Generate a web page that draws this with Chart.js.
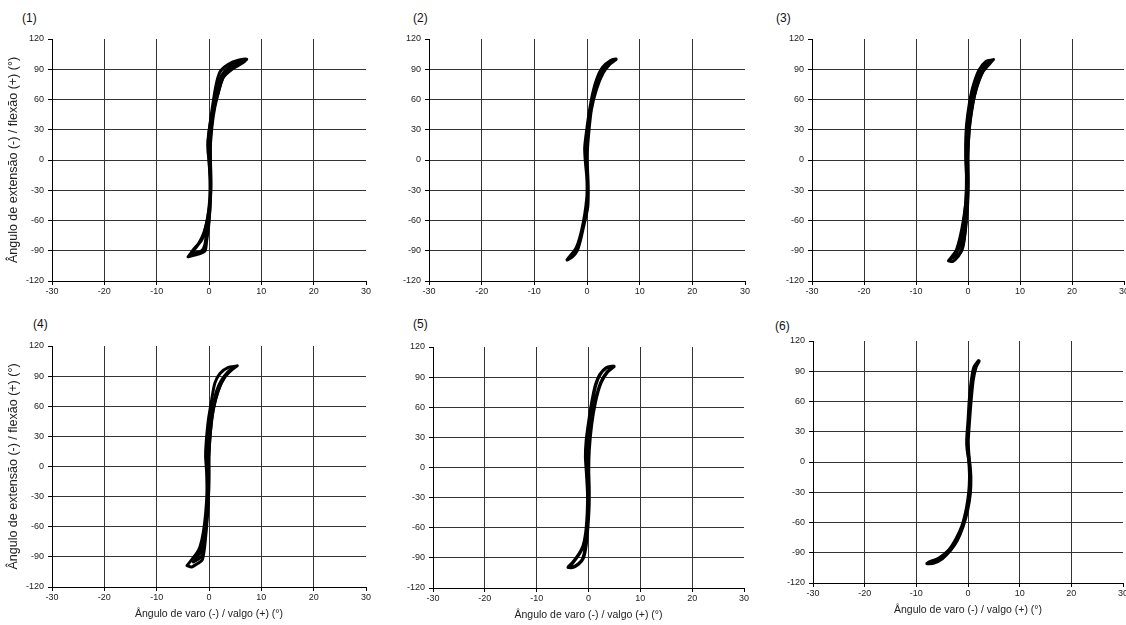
<!DOCTYPE html>
<html>
<head>
<meta charset="utf-8">
<script src="https://cdn.jsdelivr.net/npm/chart.js@4.4.1/dist/chart.umd.min.js"></script>
<style>
  html, body { margin: 0; padding: 0; background: #fff; }
  body { width: 1126px; height: 625px; position: relative; overflow: hidden; }
  canvas { position: absolute; }
  .plabel { position: absolute; font-family: "Liberation Sans", Arial, sans-serif; font-size: 12px; color: #111; }
</style>
</head>
<body>
<div class="plabel" style="left:22px;top:11px">(1)</div>
<div class="plabel" style="left:413px;top:11px">(2)</div>
<div class="plabel" style="left:776px;top:11px">(3)</div>
<div class="plabel" style="left:33px;top:317px">(4)</div>
<div class="plabel" style="left:413px;top:317px">(5)</div>
<div class="plabel" style="left:775px;top:319px">(6)</div>
<canvas id="c1"></canvas>
<canvas id="c2"></canvas>
<canvas id="c3"></canvas>
<canvas id="c4"></canvas>
<canvas id="c5"></canvas>
<canvas id="c6"></canvas>
<script>
// ── Axis ticks / titles ────────────────────────────────────────────────────
const xTicks = [-30, -20, -10, 0, 10, 20, 30];
const yTicks = [-120, -90, -60, -30, 0, 30, 60, 90, 120];
const xTitle = "Ângulo de varo (-) / valgo (+) (°)";
const yTitle = "Ângulo de extensão (-) / flexão (+) (°)";

// ── Curves (varo/valgo x, extensão/flexão y) ───────────────────────────────
// panel (1)
const p1aX = [-4.0, -3.0, -1.9, -1.0, -0.3, 0.2, 0.25, 0.0, -0.2, -0.2, 0.2, 0.64, 1.15, 1.7, 2.3, 3.7, 5.6, 7.2,
              6.3, 4.4, 2.75, 1.9, 1.1, 0.55, 0.25, 0.3, 0.35, 0.2, -0.1, -0.45, -0.75, -2.0, -4.0];
const p1aY = [-96, -89, -82, -72.5, -59, -40, -20, 0, 9, 19, 36, 52, 69, 82, 89, 95, 99, 100,
              96, 90, 82, 69, 52, 32.5, 12.6, -7, -27, -47, -67, -80, -90, -93.4, -96];
const p1bX = [-3.4, -2.05, -1.3, -0.8, -0.2, 0.15, 0.2, 0.0, -0.15, 0.2, 0.9, 1.3, 1.8, 2.4, 3.4, 5.0, 6.6,
              6.0, 4.4, 3.1, 2.3, 1.7, 1.0, 0.5, 0.25, 0.3, 0.35, 0.2, -0.05, -0.5, -0.77, -1.4, -3.4];
const p1bY = [-93, -84, -78.5, -70, -55, -38, -20, 0, 18, 35, 52, 62, 75.5, 83.8, 90.4, 96.7, 98.5,
              97, 92.7, 85.4, 77, 65.6, 52, 35, 15, -5, -25, -45, -62, -73.5, -83.4, -90, -93];

// panel (2)
const p2aX = [-3.75, -3.3, -2.35, -1.7, -1.0, -0.4, 0.0, 0.05, -0.05, -0.3, -0.4, 0.05, 0.6, 1.25, 2.0, 3.0, 4.5, 5.5,
              5.4, 4.3, 3.0, 1.75, 0.8, 0.35, 0.05, 0.05, 0.2, 0.1, -0.6, -1.3, -1.9, -2.8, -3.75];
const p2aY = [-99, -96, -90, -83, -70, -54, -37, -24, -14, 0, 12.6, 32.5, 52, 69, 82, 92, 98.5, 100,
              99.5, 95, 86, 70, 50, 30, 10, -7, -27, -47, -64, -80, -90, -96, -99];

// panel (3)
const p3aX = [-3.75, -3.3, -2.3, -1.55, -0.9, -0.4, -0.26, -0.4, -0.45, -0.26, 0.26, 0.9, 2.1, 3.5, 4.8,
              4.9, 4.1, 2.8, 1.7, 0.9, 0.4, 0.1, -0.05, 0.05, -0.1, -0.5, -1.0, -1.8, -3.0, -3.75];
const p3aY = [-100, -97, -90, -77, -60, -40, -20.5, 0, 16, 36, 56, 72, 89, 98, 99.3,
              99.7, 95, 87, 72, 56, 39, 19, -0.7, -24, -47, -70, -87, -95, -100.7, -100];
const p3bX = [-3.3, -2.2, -1.4, -0.9, -0.4, -0.3, -0.4, -0.2, 0.3, 0.9, 1.6, 2.6, 3.8, 4.6,
              3.9, 2.9, 2.0, 1.3, 0.7, 0.2, 0.0, 0.0, -0.1, -0.4, -0.8, -1.5, -3.3];
const p3bY = [-98, -92, -82, -65, -40, -15, 5, 25, 45, 62, 77, 89, 96, 99,
              95, 88, 78, 65, 48, 28, 8, -15, -40, -62, -80, -92, -98];

// panel (4)
const p4aX = [-4.2, -3.3, -2.3, -1.7, -1.1, -0.63, -0.4, -0.45, -0.65, -0.55, -0.13, 0.5, 1.1, 2.1, 3.7, 5.25,
              5.4, 4.3, 3.04, 1.8, 0.8, 0.25, -0.05, -0.05, -0.1, -0.3, -0.63, -0.9, -1.27, -2.0, -3.3, -4.2];
const p4aY = [-98.7, -92.7, -86, -79.5, -66, -46, -26.5, -6.6, 10, 23, 46, 66, 82.8, 92.7, 98.7, 100,
              100.3, 96, 89.4, 76, 56, 33, 10, -10, -29.8, -49.7, -69.5, -82.8, -92.7, -96, -100, -98.7];
const p4bX = [-3.0, -2.0, -1.3, -0.8, -0.4, -0.2, -0.3, -0.5, -0.2, 0.3, 0.8, 1.5, 2.4, 3.6, 4.8,
              4.0, 2.9, 2.0, 1.2, 0.6, 0.2, 0.0, 0.0, -0.1, -0.4, -0.7, -1.0, -1.5, -3.0];
const p4bY = [-95, -88, -80, -68, -48, -28, -8, 10, 30, 48, 62, 76, 86, 94, 99,
              95, 88, 79, 66, 50, 30, 10, -10, -30, -50, -68, -80, -90, -95];

// panel (5)
const p5aX = [-3.9, -3.0, -1.8, -1.0, -0.5, -0.2, -0.15, -0.35, -0.55, -0.4, 0.1, 0.7, 1.4, 2.2, 3.4, 4.7,
              4.9, 3.6, 2.35, 1.3, 0.55, 0.1, 0.0, 0.1, 0.05, -0.25, -0.6, -1.1, -1.9, -3.1, -3.9];
const p5aY = [-99.3, -94.4, -86, -78, -65, -45, -25.6, -6, 10.5, 27, 46.6, 66, 82.6, 92.5, 99.2, 100.7,
              100.5, 95, 84, 65, 42, 17, -2.6, -22.3, -42, -65, -81, -91, -96, -99.5, -99.3];

// panel (6)
const p6aX = [2.0, 1.2, 0.7, 0.3, 0.06, -0.2, -0.1, 0.3, 0.5, 0.4, -0.13, -1.0, -2.1, -3.4, -5.0, -6.6, -7.9];
const p6aY = [100, 94, 81, 61, 41, 21.5, 11.5, -1.6, -15, -31, -48, -64, -77.6, -87.5, -95.7, -100, -100.7];
const p6bX = [-7.6, -5.6, -3.7, -2.3, -1.1, -0.26, 0.2, 0.35, 0.25, 0.06, 0.0, 0.25, 0.55, 0.95, 1.5, 2.1];
const p6bY = [-99.5, -95.5, -87.5, -76.5, -63, -46, -30, -15, -1.6, 11.5, 21.5, 41, 61, 81, 94, 100];

// ── Layout: plot-area box on the page for each panel ───────────────────────
const layouts = [
  { id: "c1", L: 52,  T: 39,  R: 366,  B: 281, yW: 52, xH: 20, yT: true,  xT: false, lw: 3.0 },
  { id: "c2", L: 429, T: 39,  R: 745,  B: 281, yW: 45, xH: 20, yT: false, xT: false, lw: 3.4 },
  { id: "c3", L: 812, T: 39,  R: 1124, B: 281, yW: 45, xH: 20, yT: false, xT: false, lw: 3.0 },
  { id: "c4", L: 52,  T: 346, R: 366,  B: 587, yW: 52, xH: 36, yT: true,  xT: true,  lw: 3.0 },
  { id: "c5", L: 433, T: 347, R: 744,  B: 588, yW: 45, xH: 36, yT: false, xT: true,  lw: 3.5 },
  { id: "c6", L: 813, T: 341, R: 1123, B: 583, yW: 45, xH: 36, yT: false, xT: true,  lw: 3.6 },
];
const curves = [
  [[p1aX, p1aY], [p1bX, p1bY]],
  [[p2aX, p2aY]],
  [[p3aX, p3aY], [p3bX, p3bY]],
  [[p4aX, p4aY], [p4bX, p4bY]],
  [[p5aX, p5aY]],
  [[p6aX, p6aY], [p6bX, p6bY]],
];

Chart.defaults.font.family = "'Liberation Sans', Arial, Helvetica, sans-serif";
Chart.defaults.color = "#222";

const PAD_T = 10;
const PAD_R = 14;
const GRID  = "#333";

function toPoints(xs, ys) {
  return xs.map((x, i) => ({ x, y: ys[i] }));
}

function drawPanel(lay, series) {
  const cv = document.getElementById(lay.id);
  const w = lay.yW + (lay.R - lay.L) + PAD_R;
  const h = PAD_T + (lay.B - lay.T) + lay.xH;
  cv.width = w;
  cv.height = h;
  cv.style.left = (lay.L - lay.yW) + "px";
  cv.style.top = (lay.T - PAD_T) + "px";
  cv.style.width = w + "px";
  cv.style.height = h + "px";

  const datasets = series.map(([xs, ys]) => ({
    data: toPoints(xs, ys),
    showLine: true,
    borderColor: "#000",
    borderWidth: lay.lw,
    borderJoinStyle: "round",
    borderCapStyle: "round",
    pointRadius: 0,
    tension: 0.25,
    fill: false,
  }));

  new Chart(cv.getContext("2d"), {
    type: "scatter",
    data: { datasets },
    options: {
      responsive: false,
      animation: false,
      devicePixelRatio: 1,
      layout: { padding: { top: PAD_T, right: PAD_R, bottom: 0, left: 0 } },
      plugins: { legend: { display: false }, tooltip: { enabled: false } },
      scales: {
        x: {
          type: "linear",
          min: xTicks[0],
          max: xTicks[xTicks.length - 1],
          afterBuildTicks: (s) => { s.ticks = xTicks.map((v) => ({ value: v })); },
          ticks: { font: { size: 9 }, padding: 1, maxRotation: 0, autoSkip: false },
          grid: {
            color: (c) => (c.tick && c.tick.value === 30 ? "rgba(0,0,0,0)" : GRID),
            lineWidth: 1,
            tickLength: 4,
            tickColor: "#000",
          },
          border: { display: true, color: "#000", width: 1 },
          title: {
            display: lay.xT,
            text: xTitle,
            font: { size: 10.5 },
            color: "#222",
            padding: { top: 0, bottom: 3 },
          },
          afterFit: (s) => { s.height = lay.xH; s.paddingLeft = 0; s.paddingRight = 0; },
        },
        y: {
          type: "linear",
          min: yTicks[0],
          max: yTicks[yTicks.length - 1],
          afterBuildTicks: (s) => { s.ticks = yTicks.map((v) => ({ value: v })); },
          ticks: { font: { size: 9 }, padding: 4 },
          grid: {
            color: (c) => (c.tick && c.tick.value === 120 ? "rgba(0,0,0,0)" : GRID),
            lineWidth: 1,
            tickLength: 4,
            tickColor: "#000",
          },
          border: { display: true, color: "#000", width: 1 },
          title: {
            display: lay.yT,
            text: yTitle,
            font: { size: 12.5 },
            color: "#222",
            padding: { top: 6, bottom: 0 },
          },
          afterFit: (s) => { s.width = lay.yW; s.paddingTop = 0; s.paddingBottom = 0; },
        },
      },
    },
  });
}

layouts.forEach((lay, i) => drawPanel(lay, curves[i]));
</script>
</body>
</html>
